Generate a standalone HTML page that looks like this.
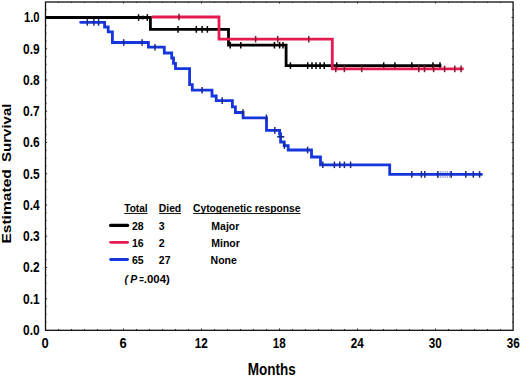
<!DOCTYPE html>
<html><head><meta charset="utf-8"><style>
html,body{margin:0;padding:0;background:#fff;}
body{width:520px;height:377px;overflow:hidden;}
svg{display:block;}
text{font-family:"Liberation Sans",sans-serif;font-weight:bold;fill:#000;}
</style></head><body>
<svg width="520" height="377" viewBox="0 0 520 377">
<rect x="0" y="0" width="520" height="377" fill="#fff"/>

<rect x="45.5" y="2" width="467.6" height="328.3" fill="none" stroke="#111" stroke-width="1.3"/>
<g stroke="#222" stroke-width="1"><line x1="58.5" y1="330.0" x2="58.5" y2="329.0"/><line x1="58.5" y1="2" x2="58.5" y2="3.0"/><line x1="71.5" y1="330.0" x2="71.5" y2="329.0"/><line x1="71.5" y1="2" x2="71.5" y2="3.0"/><line x1="84.5" y1="330.0" x2="84.5" y2="329.0"/><line x1="84.5" y1="2" x2="84.5" y2="3.0"/><line x1="97.5" y1="330.0" x2="97.5" y2="329.0"/><line x1="97.5" y1="2" x2="97.5" y2="3.0"/><line x1="110.5" y1="330.0" x2="110.5" y2="329.0"/><line x1="110.5" y1="2" x2="110.5" y2="3.0"/><line x1="123.5" y1="330.0" x2="123.5" y2="328.5"/><line x1="123.5" y1="2" x2="123.5" y2="3.5"/><line x1="136.5" y1="330.0" x2="136.5" y2="329.0"/><line x1="136.5" y1="2" x2="136.5" y2="3.0"/><line x1="149.5" y1="330.0" x2="149.5" y2="329.0"/><line x1="149.5" y1="2" x2="149.5" y2="3.0"/><line x1="162.5" y1="330.0" x2="162.5" y2="329.0"/><line x1="162.5" y1="2" x2="162.5" y2="3.0"/><line x1="175.5" y1="330.0" x2="175.5" y2="329.0"/><line x1="175.5" y1="2" x2="175.5" y2="3.0"/><line x1="188.5" y1="330.0" x2="188.5" y2="329.0"/><line x1="188.5" y1="2" x2="188.5" y2="3.0"/><line x1="201.5" y1="330.0" x2="201.5" y2="328.5"/><line x1="201.5" y1="2" x2="201.5" y2="3.5"/><line x1="214.5" y1="330.0" x2="214.5" y2="329.0"/><line x1="214.5" y1="2" x2="214.5" y2="3.0"/><line x1="227.5" y1="330.0" x2="227.5" y2="329.0"/><line x1="227.5" y1="2" x2="227.5" y2="3.0"/><line x1="240.5" y1="330.0" x2="240.5" y2="329.0"/><line x1="240.5" y1="2" x2="240.5" y2="3.0"/><line x1="253.5" y1="330.0" x2="253.5" y2="329.0"/><line x1="253.5" y1="2" x2="253.5" y2="3.0"/><line x1="266.5" y1="330.0" x2="266.5" y2="329.0"/><line x1="266.5" y1="2" x2="266.5" y2="3.0"/><line x1="279.5" y1="330.0" x2="279.5" y2="328.5"/><line x1="279.5" y1="2" x2="279.5" y2="3.5"/><line x1="292.5" y1="330.0" x2="292.5" y2="329.0"/><line x1="292.5" y1="2" x2="292.5" y2="3.0"/><line x1="305.5" y1="330.0" x2="305.5" y2="329.0"/><line x1="305.5" y1="2" x2="305.5" y2="3.0"/><line x1="318.5" y1="330.0" x2="318.5" y2="329.0"/><line x1="318.5" y1="2" x2="318.5" y2="3.0"/><line x1="331.5" y1="330.0" x2="331.5" y2="329.0"/><line x1="331.5" y1="2" x2="331.5" y2="3.0"/><line x1="344.5" y1="330.0" x2="344.5" y2="329.0"/><line x1="344.5" y1="2" x2="344.5" y2="3.0"/><line x1="357.5" y1="330.0" x2="357.5" y2="328.5"/><line x1="357.5" y1="2" x2="357.5" y2="3.5"/><line x1="370.5" y1="330.0" x2="370.5" y2="329.0"/><line x1="370.5" y1="2" x2="370.5" y2="3.0"/><line x1="383.5" y1="330.0" x2="383.5" y2="329.0"/><line x1="383.5" y1="2" x2="383.5" y2="3.0"/><line x1="396.5" y1="330.0" x2="396.5" y2="329.0"/><line x1="396.5" y1="2" x2="396.5" y2="3.0"/><line x1="409.5" y1="330.0" x2="409.5" y2="329.0"/><line x1="409.5" y1="2" x2="409.5" y2="3.0"/><line x1="422.5" y1="330.0" x2="422.5" y2="329.0"/><line x1="422.5" y1="2" x2="422.5" y2="3.0"/><line x1="435.5" y1="330.0" x2="435.5" y2="328.5"/><line x1="435.5" y1="2" x2="435.5" y2="3.5"/><line x1="448.5" y1="330.0" x2="448.5" y2="329.0"/><line x1="448.5" y1="2" x2="448.5" y2="3.0"/><line x1="461.5" y1="330.0" x2="461.5" y2="329.0"/><line x1="461.5" y1="2" x2="461.5" y2="3.0"/><line x1="474.5" y1="330.0" x2="474.5" y2="329.0"/><line x1="474.5" y1="2" x2="474.5" y2="3.0"/><line x1="487.5" y1="330.0" x2="487.5" y2="329.0"/><line x1="487.5" y1="2" x2="487.5" y2="3.0"/><line x1="500.5" y1="330.0" x2="500.5" y2="329.0"/><line x1="500.5" y1="2" x2="500.5" y2="3.0"/><line x1="45.5" y1="322.19" x2="46.5" y2="322.19"/><line x1="513.1" y1="322.19" x2="512.1" y2="322.19"/><line x1="45.5" y1="314.38" x2="46.5" y2="314.38"/><line x1="513.1" y1="314.38" x2="512.1" y2="314.38"/><line x1="45.5" y1="306.56" x2="46.5" y2="306.56"/><line x1="513.1" y1="306.56" x2="512.1" y2="306.56"/><line x1="45.5" y1="298.75" x2="47.1" y2="298.75"/><line x1="513.1" y1="298.75" x2="511.5" y2="298.75"/><line x1="45.5" y1="290.94" x2="46.5" y2="290.94"/><line x1="513.1" y1="290.94" x2="512.1" y2="290.94"/><line x1="45.5" y1="283.12" x2="46.5" y2="283.12"/><line x1="513.1" y1="283.12" x2="512.1" y2="283.12"/><line x1="45.5" y1="275.31" x2="46.5" y2="275.31"/><line x1="513.1" y1="275.31" x2="512.1" y2="275.31"/><line x1="45.5" y1="267.50" x2="47.1" y2="267.50"/><line x1="513.1" y1="267.50" x2="511.5" y2="267.50"/><line x1="45.5" y1="259.69" x2="46.5" y2="259.69"/><line x1="513.1" y1="259.69" x2="512.1" y2="259.69"/><line x1="45.5" y1="251.88" x2="46.5" y2="251.88"/><line x1="513.1" y1="251.88" x2="512.1" y2="251.88"/><line x1="45.5" y1="244.06" x2="46.5" y2="244.06"/><line x1="513.1" y1="244.06" x2="512.1" y2="244.06"/><line x1="45.5" y1="236.25" x2="47.1" y2="236.25"/><line x1="513.1" y1="236.25" x2="511.5" y2="236.25"/><line x1="45.5" y1="228.44" x2="46.5" y2="228.44"/><line x1="513.1" y1="228.44" x2="512.1" y2="228.44"/><line x1="45.5" y1="220.62" x2="46.5" y2="220.62"/><line x1="513.1" y1="220.62" x2="512.1" y2="220.62"/><line x1="45.5" y1="212.81" x2="46.5" y2="212.81"/><line x1="513.1" y1="212.81" x2="512.1" y2="212.81"/><line x1="45.5" y1="205.00" x2="47.1" y2="205.00"/><line x1="513.1" y1="205.00" x2="511.5" y2="205.00"/><line x1="45.5" y1="197.19" x2="46.5" y2="197.19"/><line x1="513.1" y1="197.19" x2="512.1" y2="197.19"/><line x1="45.5" y1="189.38" x2="46.5" y2="189.38"/><line x1="513.1" y1="189.38" x2="512.1" y2="189.38"/><line x1="45.5" y1="181.56" x2="46.5" y2="181.56"/><line x1="513.1" y1="181.56" x2="512.1" y2="181.56"/><line x1="45.5" y1="173.75" x2="47.1" y2="173.75"/><line x1="513.1" y1="173.75" x2="511.5" y2="173.75"/><line x1="45.5" y1="165.94" x2="46.5" y2="165.94"/><line x1="513.1" y1="165.94" x2="512.1" y2="165.94"/><line x1="45.5" y1="158.12" x2="46.5" y2="158.12"/><line x1="513.1" y1="158.12" x2="512.1" y2="158.12"/><line x1="45.5" y1="150.31" x2="46.5" y2="150.31"/><line x1="513.1" y1="150.31" x2="512.1" y2="150.31"/><line x1="45.5" y1="142.50" x2="47.1" y2="142.50"/><line x1="513.1" y1="142.50" x2="511.5" y2="142.50"/><line x1="45.5" y1="134.69" x2="46.5" y2="134.69"/><line x1="513.1" y1="134.69" x2="512.1" y2="134.69"/><line x1="45.5" y1="126.88" x2="46.5" y2="126.88"/><line x1="513.1" y1="126.88" x2="512.1" y2="126.88"/><line x1="45.5" y1="119.06" x2="46.5" y2="119.06"/><line x1="513.1" y1="119.06" x2="512.1" y2="119.06"/><line x1="45.5" y1="111.25" x2="47.1" y2="111.25"/><line x1="513.1" y1="111.25" x2="511.5" y2="111.25"/><line x1="45.5" y1="103.44" x2="46.5" y2="103.44"/><line x1="513.1" y1="103.44" x2="512.1" y2="103.44"/><line x1="45.5" y1="95.62" x2="46.5" y2="95.62"/><line x1="513.1" y1="95.62" x2="512.1" y2="95.62"/><line x1="45.5" y1="87.81" x2="46.5" y2="87.81"/><line x1="513.1" y1="87.81" x2="512.1" y2="87.81"/><line x1="45.5" y1="80.00" x2="47.1" y2="80.00"/><line x1="513.1" y1="80.00" x2="511.5" y2="80.00"/><line x1="45.5" y1="72.19" x2="46.5" y2="72.19"/><line x1="513.1" y1="72.19" x2="512.1" y2="72.19"/><line x1="45.5" y1="64.38" x2="46.5" y2="64.38"/><line x1="513.1" y1="64.38" x2="512.1" y2="64.38"/><line x1="45.5" y1="56.56" x2="46.5" y2="56.56"/><line x1="513.1" y1="56.56" x2="512.1" y2="56.56"/><line x1="45.5" y1="48.75" x2="47.1" y2="48.75"/><line x1="513.1" y1="48.75" x2="511.5" y2="48.75"/><line x1="45.5" y1="40.94" x2="46.5" y2="40.94"/><line x1="513.1" y1="40.94" x2="512.1" y2="40.94"/><line x1="45.5" y1="33.12" x2="46.5" y2="33.12"/><line x1="513.1" y1="33.12" x2="512.1" y2="33.12"/><line x1="45.5" y1="25.31" x2="46.5" y2="25.31"/><line x1="513.1" y1="25.31" x2="512.1" y2="25.31"/><line x1="45.5" y1="17.50" x2="47.1" y2="17.50"/><line x1="513.1" y1="17.50" x2="511.5" y2="17.50"/><line x1="45.5" y1="9.69" x2="46.5" y2="9.69"/><line x1="513.1" y1="9.69" x2="512.1" y2="9.69"/></g>
<path d="M80.6 22.3 H104.6 V27 H108.2 V31.8 H112.4 V42.5 H148.4 V47.2 H164.3 V53 H171.7 V58 H173.5 V63.3 H175.5 V68.6 H189.6 V84.7 H192.3 V90.2 H212 V96 H216.2 V100.6 H232.4 V106.8 H235.4 V112.5 H243.1 V117.8 H266.5 V130.4 H279.6 V134 H280.6 V142 H284.2 V145.6 H288.2 V150 H311.5 V157 H320.5 V164.8 H389.7 V174.4 H481.5" fill="none" stroke="#1436dc" stroke-width="2.8" stroke-linejoin="miter" stroke-linecap="round"/>
<g stroke="#1a2a8a" stroke-width="1.5"><line x1="87.3" y1="19.099999999999998" x2="87.3" y2="25.7"/><line x1="93.9" y1="19.099999999999998" x2="93.9" y2="25.7"/><line x1="98.6" y1="19.099999999999998" x2="98.6" y2="25.7"/><line x1="123.7" y1="39.2" x2="123.7" y2="45.8"/><line x1="142.1" y1="39.2" x2="142.1" y2="45.8"/><line x1="155" y1="43.900000000000006" x2="155" y2="50.5"/><line x1="202.1" y1="86.9" x2="202.1" y2="93.5"/><line x1="222.2" y1="97.3" x2="222.2" y2="103.89999999999999"/><line x1="243" y1="109.2" x2="243" y2="115.8"/><line x1="266.4" y1="114.5" x2="266.4" y2="121.1"/><line x1="274.8" y1="127.10000000000001" x2="274.8" y2="133.70000000000002"/><line x1="284.4" y1="142.29999999999998" x2="284.4" y2="148.9"/><line x1="307.6" y1="146.7" x2="307.6" y2="153.3"/><line x1="322.8" y1="161.5" x2="322.8" y2="168.10000000000002"/><line x1="334.4" y1="161.5" x2="334.4" y2="168.10000000000002"/><line x1="339.8" y1="161.5" x2="339.8" y2="168.10000000000002"/><line x1="344.4" y1="161.5" x2="344.4" y2="168.10000000000002"/><line x1="350.6" y1="161.5" x2="350.6" y2="168.10000000000002"/><line x1="411.8" y1="171.1" x2="411.8" y2="177.70000000000002"/><line x1="421.4" y1="171.1" x2="421.4" y2="177.70000000000002"/><line x1="424.8" y1="171.1" x2="424.8" y2="177.70000000000002"/><line x1="437.7" y1="171.1" x2="437.7" y2="177.70000000000002"/><line x1="451.2" y1="171.1" x2="451.2" y2="177.70000000000002"/><line x1="465.8" y1="171.1" x2="465.8" y2="177.70000000000002"/><line x1="473.3" y1="171.1" x2="473.3" y2="177.70000000000002"/><line x1="479.6" y1="171.1" x2="479.6" y2="177.70000000000002"/></g>
<line x1="277.2" y1="136.8" x2="284.3" y2="136.8" stroke="#1a2a8a" stroke-width="1.6"/>
<g stroke="#1a2a8a" stroke-width="0.8" stroke-dasharray="1.2 1"><line x1="438" y1="172" x2="451" y2="172"/><line x1="438" y1="177" x2="451" y2="177"/></g>
<path d="M45.5 17.5 H150.4 V29.4 H228.5 V45.2 H286.1 V65.6 H441.4" fill="none" stroke="#000000" stroke-width="2.8" stroke-linejoin="miter"/>
<g stroke="#000" stroke-width="1.5"><line x1="138.6" y1="14.2" x2="138.6" y2="20.8"/><line x1="147.3" y1="14.2" x2="147.3" y2="20.8"/><line x1="178" y1="26.099999999999998" x2="178" y2="32.699999999999996"/><line x1="196.3" y1="26.099999999999998" x2="196.3" y2="32.699999999999996"/><line x1="202.1" y1="26.099999999999998" x2="202.1" y2="32.699999999999996"/><line x1="207.4" y1="26.099999999999998" x2="207.4" y2="32.699999999999996"/><line x1="230.2" y1="41.900000000000006" x2="230.2" y2="48.5"/><line x1="240.8" y1="41.900000000000006" x2="240.8" y2="48.5"/><line x1="274.4" y1="41.900000000000006" x2="274.4" y2="48.5"/><line x1="279.6" y1="41.900000000000006" x2="279.6" y2="48.5"/><line x1="283" y1="41.900000000000006" x2="283" y2="48.5"/><line x1="290.4" y1="62.3" x2="290.4" y2="68.89999999999999"/><line x1="307.7" y1="62.3" x2="307.7" y2="68.89999999999999"/><line x1="312" y1="62.3" x2="312" y2="68.89999999999999"/><line x1="316" y1="62.3" x2="316" y2="68.89999999999999"/><line x1="320.1" y1="62.3" x2="320.1" y2="68.89999999999999"/><line x1="324.2" y1="62.3" x2="324.2" y2="68.89999999999999"/><line x1="336.7" y1="62.3" x2="336.7" y2="68.89999999999999"/><line x1="383.7" y1="62.3" x2="383.7" y2="68.89999999999999"/><line x1="394.9" y1="62.3" x2="394.9" y2="68.89999999999999"/><line x1="411.8" y1="62.3" x2="411.8" y2="68.89999999999999"/><line x1="433" y1="62.3" x2="433" y2="68.89999999999999"/><line x1="440" y1="62.3" x2="440" y2="68.89999999999999"/></g><circle cx="142.8" cy="17.5" r="1.9" fill="#000"/>
<path d="M151.7 17 H219 V39.2 H332.3 V68.9 H463.7" fill="none" stroke="#e41a50" stroke-width="2.8" stroke-linejoin="miter"/>
<g stroke="#7a1a2a" stroke-width="1.5"><line x1="179" y1="13.7" x2="179" y2="20.3"/><line x1="255.6" y1="35.900000000000006" x2="255.6" y2="42.5"/><line x1="277.7" y1="35.900000000000006" x2="277.7" y2="42.5"/><line x1="308.8" y1="35.900000000000006" x2="308.8" y2="42.5"/><line x1="335.8" y1="65.60000000000001" x2="335.8" y2="72.2"/><line x1="344.4" y1="65.60000000000001" x2="344.4" y2="72.2"/><line x1="361.7" y1="65.60000000000001" x2="361.7" y2="72.2"/><line x1="418.8" y1="65.60000000000001" x2="418.8" y2="72.2"/><line x1="424.5" y1="65.60000000000001" x2="424.5" y2="72.2"/><line x1="433.6" y1="65.60000000000001" x2="433.6" y2="72.2"/><line x1="444.6" y1="65.60000000000001" x2="444.6" y2="72.2"/><line x1="454.8" y1="65.60000000000001" x2="454.8" y2="72.2"/><line x1="461.1" y1="65.60000000000001" x2="461.1" y2="72.2"/></g>
<text x="39.6" y="334.90" text-anchor="end" font-size="14" textLength="16.6" lengthAdjust="spacingAndGlyphs">0.0</text><text x="39.6" y="303.65" text-anchor="end" font-size="14" textLength="16.6" lengthAdjust="spacingAndGlyphs">0.1</text><text x="39.6" y="272.40" text-anchor="end" font-size="14" textLength="16.6" lengthAdjust="spacingAndGlyphs">0.2</text><text x="39.6" y="241.15" text-anchor="end" font-size="14" textLength="16.6" lengthAdjust="spacingAndGlyphs">0.3</text><text x="39.6" y="209.90" text-anchor="end" font-size="14" textLength="16.6" lengthAdjust="spacingAndGlyphs">0.4</text><text x="39.6" y="178.65" text-anchor="end" font-size="14" textLength="16.6" lengthAdjust="spacingAndGlyphs">0.5</text><text x="39.6" y="147.40" text-anchor="end" font-size="14" textLength="16.6" lengthAdjust="spacingAndGlyphs">0.6</text><text x="39.6" y="116.15" text-anchor="end" font-size="14" textLength="16.6" lengthAdjust="spacingAndGlyphs">0.7</text><text x="39.6" y="84.90" text-anchor="end" font-size="14" textLength="16.6" lengthAdjust="spacingAndGlyphs">0.8</text><text x="39.6" y="53.65" text-anchor="end" font-size="14" textLength="16.6" lengthAdjust="spacingAndGlyphs">0.9</text><text x="39.6" y="22.40" text-anchor="end" font-size="14" textLength="15.6" lengthAdjust="spacingAndGlyphs">1.0</text>
<text x="45.2" y="348.3" text-anchor="middle" font-size="14" textLength="7.2" lengthAdjust="spacingAndGlyphs">0</text><text x="123.2" y="348.3" text-anchor="middle" font-size="14" textLength="7.2" lengthAdjust="spacingAndGlyphs">6</text><text x="201.2" y="348.3" text-anchor="middle" font-size="14" textLength="13" lengthAdjust="spacingAndGlyphs">12</text><text x="279.2" y="348.3" text-anchor="middle" font-size="14" textLength="13" lengthAdjust="spacingAndGlyphs">18</text><text x="357.2" y="348.3" text-anchor="middle" font-size="14" textLength="13" lengthAdjust="spacingAndGlyphs">24</text><text x="435.2" y="348.3" text-anchor="middle" font-size="14" textLength="13" lengthAdjust="spacingAndGlyphs">30</text><text x="513.2" y="348.3" text-anchor="middle" font-size="14" textLength="13" lengthAdjust="spacingAndGlyphs">36</text>
<text x="271.8" y="374.8" text-anchor="middle" font-size="15.8" textLength="48" lengthAdjust="spacingAndGlyphs">Months</text>
<text transform="translate(11.2 243.6) rotate(-90) scale(1 0.88)" x="0" y="0" font-size="15" textLength="74.4" lengthAdjust="spacingAndGlyphs">Estimated</text>
<text transform="translate(11.2 162) rotate(-90) scale(1 0.88)" x="0" y="0" font-size="15" textLength="58.5" lengthAdjust="spacingAndGlyphs">Survival</text>
<text x="124.2" y="211.8" font-size="10.5" textLength="23.5" lengthAdjust="spacingAndGlyphs">Total</text><line x1="124.2" y1="213.5" x2="147.7" y2="213.5" stroke="#000" stroke-width="0.9"/><text x="158.8" y="211.8" font-size="10.5" textLength="22.4" lengthAdjust="spacingAndGlyphs">Died</text><line x1="159.2" y1="213.5" x2="181" y2="213.5" stroke="#000" stroke-width="0.9"/><text x="193" y="211.8" font-size="10.5" textLength="107.5" lengthAdjust="spacingAndGlyphs">Cytogenetic response</text><line x1="193" y1="213.5" x2="300.5" y2="213.5" stroke="#000" stroke-width="0.9"/><line x1="110.6" y1="225.4" x2="127.6" y2="225.4" stroke="#000000" stroke-width="3.2" stroke-linecap="round"/><text x="132" y="230.0" font-size="10.5">28</text><text x="158.8" y="230.0" font-size="10.5">3</text><text x="211.3" y="230.0" font-size="10.5">Major</text><line x1="110.6" y1="242.3" x2="127.6" y2="242.3" stroke="#e41a50" stroke-width="2.8" stroke-linecap="round"/><text x="132" y="246.9" font-size="10.5">16</text><text x="158.8" y="246.9" font-size="10.5">2</text><text x="211.3" y="246.9" font-size="10.5">Minor</text><line x1="110.6" y1="259.5" x2="127.6" y2="259.5" stroke="#1436dc" stroke-width="2.8" stroke-linecap="round"/><text x="132" y="264.1" font-size="10.5">65</text><text x="158.8" y="264.1" font-size="10.5">27</text><text x="210.6" y="264.1" font-size="10.5">None</text><text y="282.5" font-size="10.5"><tspan x="124.6" font-style="italic">(</tspan><tspan x="130.2" font-style="italic">P</tspan><tspan x="139.3" textLength="4.6" lengthAdjust="spacingAndGlyphs">=</tspan><tspan x="143.8" textLength="26" lengthAdjust="spacingAndGlyphs">.004)</tspan></text>
</svg></body></html>
